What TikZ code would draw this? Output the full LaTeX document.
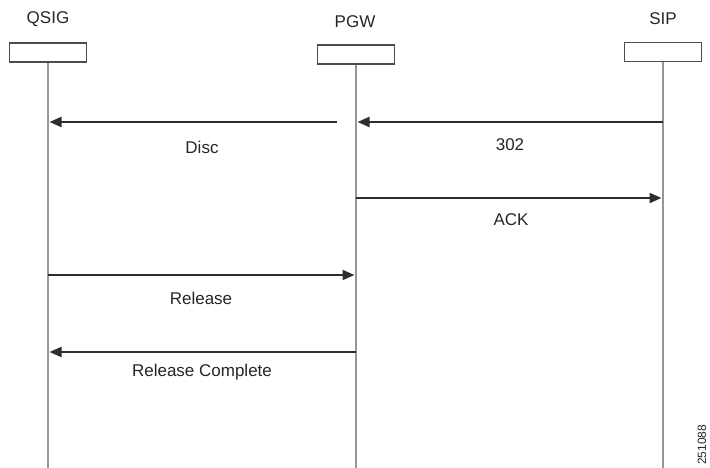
\documentclass[tikz,border=0pt]{standalone}
\usepackage{fontspec}
\setmainfont{Liberation Sans}
\usetikzlibrary{arrows.meta}
\definecolor{lifegray}{RGB}{150,150,150}
\definecolor{arrowgray}{RGB}{45,45,45}
\begin{document}
\begin{tikzpicture}[x=1pt,y=-1pt,
  entity/.style={draw=arrowgray!85,line width=1.6pt,fill=white,minimum width=77pt,minimum height=19pt,inner sep=0pt},
  lifeline/.style={draw=lifegray,line width=2.8pt},
  msg/.style={draw=arrowgray,line width=2pt,-{Triangle[length=12pt,width=10pt]}},
  lbl/.style={font=\fontsize{17}{20}\selectfont,text=black!85,inner sep=0pt},
  figid/.style={font=\fontsize{12}{14}\selectfont,text=black!85,rotate=90,inner sep=0pt}]
\useasboundingbox (0,0) rectangle (710,468);
% entities
\node[lbl] (lq) at (48,19) {QSIG};
\node[lbl] (lp) at (355,22) {PGW};
\node[lbl] (ls) at (663,19) {SIP};
\node[entity] (bq) at (48,52.5) {};
\node[entity] (bp) at (356,54.5) {};
\node[entity] (bs) at (663,52) {};
% lifeline ends
\coordinate (eq) at (48,470);
\coordinate (ep) at (356,470);
\coordinate (es) at (663,470);
\draw[lifeline] (bq.south) -- (eq);
\draw[lifeline] (bp.south) -- (ep);
\draw[lifeline] (bs.south) -- (es);
% message points
\coordinate (q1) at (49.5,122);
\coordinate (p1) at (337,122);
\coordinate (p2) at (357.5,122);
\coordinate (s2) at (663,122);
\coordinate (p3) at (356,198);
\coordinate (s3) at (661.5,198);
\coordinate (q4) at (48,275);
\coordinate (p4) at (354.5,275);
\coordinate (p5) at (356,352);
\coordinate (q5) at (49.5,352);
% messages
\draw[msg] (p1) -- (q1);
\draw[msg] (s2) -- (p2);
\draw[msg] (p3) -- (s3);
\draw[msg] (q4) -- (p4);
\draw[msg] (p5) -- (q5);
% labels
\node[lbl] (t1) at (202,147) {Disc};
\node[lbl] (t2) at (510,145) {302};
\node[lbl] (t3) at (511,220) {ACK};
\node[lbl] (t4) at (201,298) {Release};
\node[lbl] (t5) at (202,372) {Release Complete};
\node[figid,anchor=west] (fid) at (702,465) {251088};
\end{tikzpicture}
\end{document}
